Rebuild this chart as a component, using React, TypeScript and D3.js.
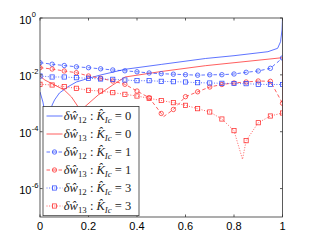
import React from "react";
import * as d3 from "d3";

const X_MARK = [0, 0.05, 0.1, 0.15, 0.2, 0.25, 0.3, 0.35, 0.4, 0.45, 0.5, 0.55, 0.6, 0.65, 0.7, 0.75, 0.8, 0.85, 0.9, 0.95, 1];
const W12_K1 = [0.0268, 0.0237, 0.0213, 0.0192, 0.01786, 0.01633, 0.01483, 0.0139, 0.01282, 0.01162, 0.01099, 0.01055, 0.01014, 0.00973, 0.01005, 0.01014, 0.01072, 0.0123, 0.01367, 0.01702, 0.0392];
const W13_K1 = [0.01786, 0.01607, 0.01367, 0.01191, 0.00912, 0.00757, 0.00608, 0.00466, 0.0027, 0.00157, 0.000438, 0.000605, 0.00171, 0.00254, 0.00374, 0.00458, 0.00518, 0.00561, 0.00608, 0.00593, 0.001];
const W12_K3 = [0.00912, 0.00841, 0.00841, 0.00794, 0.00757, 0.00715, 0.00698, 0.00659, 0.00623, 0.00623, 0.00593, 0.00574, 0.00561, 0.0053, 0.00518, 0.00505, 0.00497, 0.00489, 0.00466, 0.00458, 0.00458];
const W13_K3 = [0.00466, 0.0044, 0.00384, 0.00337, 0.00286, 0.0027, 0.00236, 0.00207, 0.0018, 0.0015, 0.00125, 0.00105, 0.000849, 0.000646, 0.000494, 0.00028, 0.000109, 0.0000483, 0.000207, 0.000357, 0.000455];
const W13_K1_DIP_X = [0.51];
const W13_K1_DIP_Y = [0.00034];
const W13_K3_DIP_X = [0.835];
const W13_K3_DIP_Y = [0.0000107];

const W12_K0_X = [0, 0.012, 0.022, 0.03, 0.04, 0.05, 0.06, 0.08, 0.116, 0.15, 0.2, 0.25, 0.351, 0.5, 0.682, 0.8, 0.94, 0.98, 0.992, 0.998, 1];
const W12_K0_Y = [0.0025, 0.00111, 0.000387, 0.00003, 0.000387, 0.00087, 0.00131, 0.0023, 0.00384, 0.00561, 0.00757, 0.00989, 0.0157, 0.0233, 0.0376, 0.0472, 0.0653, 0.0859, 0.1466, 0.378, 0.98];
const W13_K0_X = [0, 0.02, 0.06, 0.1, 0.13, 0.155, 0.165, 0.172, 0.178, 0.185, 0.24, 0.3, 0.351, 0.5, 0.682, 1, 1];
const W13_K0_Y = [0.00912, 0.00659, 0.0044, 0.00293, 0.00166, 0.000803, 0.000258, 0.00001, 0.000258, 0.000759, 0.00196, 0.0044, 0.00841, 0.01312, 0.021, 0.0402, 0.000387];

const X_TICKS = [0, 0.2, 0.4, 0.6, 0.8, 1];
const X_TICK_LABELS = ["0", "0.2", "0.4", "0.6", "0.8", "1"];
const Y_TICKS = [1, 1e-2, 1e-4, 1e-6];
const Y_TICK_EXP = ["0", "-2", "-4", "-6"];

const BLUE = "#2a45ff";
const RED = "#ff2a2a";

type Pt = [number, number];

function mergePts(xs: number[], ys: number[], ex: number[] = [], ey: number[] = []): Pt[] {
  const pts: Pt[] = xs.map((x, i) => [x, ys[i]] as Pt).concat(ex.map((x, i) => [x, ey[i]] as Pt));
  return pts.sort((a, b) => a[0] - b[0]);
}

const LEGEND = [
  { sub: "12", k: "0", color: BLUE, dash: "", marker: "" },
  { sub: "13", k: "0", color: RED, dash: "", marker: "" },
  { sub: "12", k: "1", color: BLUE, dash: "3.5,2.5", marker: "circle" },
  { sub: "13", k: "1", color: RED, dash: "3.5,2.5", marker: "circle" },
  { sub: "12", k: "3", color: BLUE, dash: "1,1.6", marker: "square" },
  { sub: "13", k: "3", color: RED, dash: "1,1.6", marker: "square" },
];

function Marker({ type, cx, cy, color }: { type: string; cx: number; cy: number; color: string }) {
  if (type === "circle") return <circle cx={cx} cy={cy} r={2.2} fill="none" stroke={color} strokeWidth={0.75} />;
  if (type === "square") return <rect x={cx - 2.1} y={cy - 2.1} width={4.2} height={4.2} fill="none" stroke={color} strokeWidth={0.75} />;
  return null;
}

export default function App() {
  const W = 312, H = 244;
  const L = 40, R = 282.5, T = 18, B = 217;
  const x = d3.scaleLinear().domain([0, 1]).range([L, R]);
  const y = d3.scaleLog().domain([1e-7, 1]).range([B, T]);
  const line = d3.line<Pt>().x((d) => x(d[0])).y((d) => y(d[1]));

  const series = [
    { pts: mergePts(W12_K0_X, W12_K0_Y), color: BLUE, dash: "", marker: "", mk: [] as number[] },
    { pts: mergePts(W13_K0_X, W13_K0_Y), color: RED, dash: "", marker: "", mk: [] as number[] },
    { pts: mergePts(X_MARK, W12_K1), color: BLUE, dash: "3.5,2.5", marker: "circle", mk: W12_K1 },
    { pts: mergePts(X_MARK, W13_K1, W13_K1_DIP_X, W13_K1_DIP_Y), color: RED, dash: "3.5,2.5", marker: "circle", mk: W13_K1 },
    { pts: mergePts(X_MARK, W12_K3), color: BLUE, dash: "1,1.6", marker: "square", mk: W12_K3 },
    { pts: mergePts(X_MARK, W13_K3, W13_K3_DIP_X, W13_K3_DIP_Y), color: RED, dash: "1,1.6", marker: "square", mk: W13_K3 },
  ];

  const axisColor = "#333";
  const lgX0 = 43, lgY0 = 106.5, lgW = 96, lgH = 109.2, lgRow = 18, lgFirst = 116;

  return (
    <svg width={W} height={H} style={{ position: "absolute", left: 0, top: 0, background: "#fff" }}>
      <defs>
        <clipPath id="plot">
          <rect x={L} y={T} width={R - L} height={B - T} />
        </clipPath>
      </defs>
      <rect x={0} y={0} width={W} height={H} fill="#fff" />
      <g clipPath="url(#plot)">
        {series.map((s, i) => (
          <g key={i}>
            <path d={line(s.pts) || ""} fill="none" stroke={s.color} strokeWidth={0.75} strokeDasharray={s.dash || undefined} />
            {s.marker &&
              X_MARK.map((xv, j) => <Marker key={j} type={s.marker} cx={x(xv)} cy={y(s.mk[j])} color={s.color} />)}
          </g>
        ))}
      </g>
      <rect x={L} y={T} width={R - L} height={B - T} fill="none" stroke={axisColor} strokeWidth={0.8} />
      {X_TICKS.map((t, i) => (
        <g key={"xt" + i}>
          <line x1={x(t)} x2={x(t)} y1={B} y2={B - 2.5} stroke={axisColor} strokeWidth={0.8} />
          <line x1={x(t)} x2={x(t)} y1={T} y2={T + 2.5} stroke={axisColor} strokeWidth={0.8} />
          <text x={x(t)} y={229.5} textAnchor="middle" fontFamily="Liberation Sans, Arial, sans-serif" fontSize={11} fill="#000">
            {X_TICK_LABELS[i]}
          </text>
        </g>
      ))}
      {Y_TICKS.map((t, i) => (
        <g key={"yt" + i}>
          <line x1={L} x2={L + 2.5} y1={y(t)} y2={y(t)} stroke={axisColor} strokeWidth={0.8} />
          <line x1={R} x2={R - 2.5} y1={y(t)} y2={y(t)} stroke={axisColor} strokeWidth={0.8} />
          <text x={31.5} y={y(t) + 5.5} textAnchor="end" fontFamily="Liberation Sans, Arial, sans-serif" fontSize={11} fill="#000">
            10
          </text>
          <text x={31.8} y={y(t) - 1} fontFamily="Liberation Sans, Arial, sans-serif" fontSize={7.5} fill="#000">
            {Y_TICK_EXP[i]}
          </text>
        </g>
      ))}
      <rect x={lgX0} y={lgY0} width={lgW} height={lgH} fill="#fff" stroke={axisColor} strokeWidth={0.8} />
      {LEGEND.map((e, i) => {
        const cy = lgFirst + i * lgRow;
        return (
          <g key={"lg" + i}>
            <line x1={46.5} x2={62.5} y1={cy} y2={cy} stroke={e.color} strokeWidth={0.75} strokeDasharray={e.dash || undefined} />
            {e.marker && <Marker type={e.marker} cx={54.5} cy={cy} color={e.color} />}
            <text x={63.8} y={cy + 4} fontFamily="Liberation Serif, serif" fontSize={12.5} fill="#222">
              <tspan fontStyle="italic">δŵ</tspan>
              <tspan fontSize={8.8} dy={2.5}>{e.sub}</tspan>
              <tspan dy={-2.5}>{" : "}</tspan>
              <tspan fontStyle="italic">{"K\u0302"}</tspan>
              <tspan fontSize={8.8} fontStyle="italic" dy={2.5}>Ic</tspan>
              <tspan dy={-2.5}>{" = " + e.k}</tspan>
            </text>
          </g>
        );
      })}
    </svg>
  );
}
